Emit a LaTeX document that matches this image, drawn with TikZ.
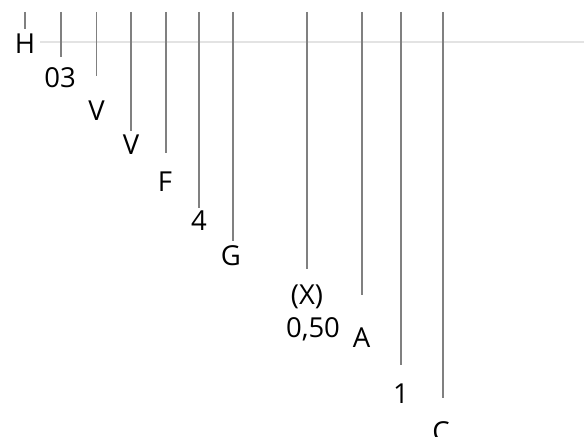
\documentclass[tikz,border=0pt]{standalone}
\usepackage{fontspec}
\setmainfont{Open Sans}
\usetikzlibrary{positioning}

\begin{document}
\begin{tikzpicture}[x=1bp,y=-1bp,
    tick/.style={draw=black!50,line width=1.6bp},
    axis/.style={draw=black!11,line width=2bp},
    lbl/.style={inner sep=0pt,anchor=base,font=\fontsize{27.6}{33}\selectfont}]
    \useasboundingbox (0,0) rectangle (584,437);
    \coordinate (axisL) at (40,42);
    \coordinate (axisR) at (584,42);
    \draw[axis] (axisL) -- (axisR);
    % ticks: name / x / end of line / label x / baseline / text
    \foreach \n/\x/\e/\lx/\b/\t in {h/25/29/25/54/H, o3/61/57/60/88/03,
        va/96.5/76/96.5/121/V, vb/131/131/131/155/V, f/166/153/165/192/F,
        four/199/208/199/231/4, g/233/241/231/266/G, x/307/269/307/304/(X),
        a/362/295/361.5/347/A, one/401/365/401/403/1, c/443/398/441/441/C}{
        \coordinate (\n top) at (\x,12);
        \coordinate (\n end) at (\x,\e);
        \draw[tick] (\n top) -- (\n end);
        \node[lbl] (\n) at (\lx,\b) {\t};
    }
    \node[lbl] (val) at (313,337) {0,50};
\end{tikzpicture}
\end{document}
